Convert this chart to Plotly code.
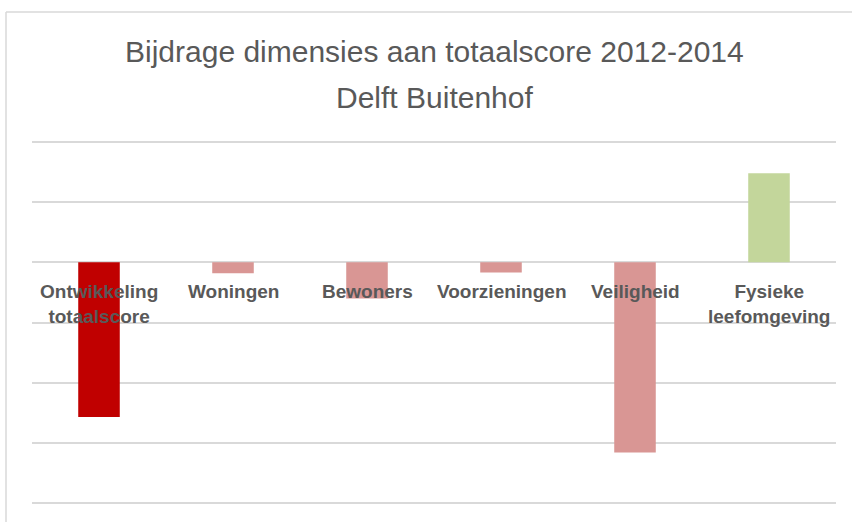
import plotly.graph_objects as go

categories = ["Ontwikkeling<br>totaalscore", "Woningen", "Bewoners", "Voorzieningen", "Veiligheid", "Fysieke<br>leefomgeving"]
values = [-2.57, -0.18, -0.60, -0.17, -3.16, 1.48]
colors = ["#C00000", "#D99694", "#D99694", "#D99694", "#D99694", "#C3D69B"]
title_line1 = "Bijdrage dimensies aan totaalscore 2012-2014"
title_line2 = "Delft Buitenhof"

x_idx = list(range(len(categories)))

fig = go.Figure()
fig.add_trace(go.Bar(x=x_idx, y=values, marker=dict(color=colors, line=dict(width=0)), width=0.31,
                     hoverinfo="skip"))

annotations = []
for i, c in enumerate(categories):
    annotations.append(dict(x=i, y=0, xref="x", yref="y", text=c, showarrow=False,
                            yanchor="top", yshift=-17,
                            font=dict(family="Liberation Sans", size=19, color="#595959", weight="bold")))
annotations.append(dict(x=0.5, y=1, xref="paper", yref="paper", text=title_line1, showarrow=False,
                        yanchor="bottom", yshift=69, xanchor="center",
                        font=dict(family="Liberation Sans", size=30, color="#595959")))
annotations.append(dict(x=0.5, y=1, xref="paper", yref="paper", text=title_line2, showarrow=False,
                        yanchor="bottom", yshift=23, xanchor="center",
                        font=dict(family="Liberation Sans", size=30, color="#595959")))

fig.update_layout(
    width=852, height=522,
    margin=dict(l=32, r=16, t=139, b=16),
    paper_bgcolor="white", plot_bgcolor="white",
    showlegend=False,
    annotations=annotations,
    xaxis=dict(range=[-0.5, len(categories) - 0.5], showticklabels=False, showgrid=False,
               zeroline=False, showline=False, ticks=""),
    yaxis=dict(range=[-4.05, 2.05], dtick=1, tick0=0, showticklabels=False, showgrid=True,
               gridcolor="#D9D9D9", gridwidth=1.5, zeroline=True, zerolinecolor="#D9D9D9",
               zerolinewidth=1.5, showline=False, ticks=""),
    shapes=[
        dict(type="line", xref="paper", yref="paper", x0=-26/804, x1=1.03, y0=1+127/367, y1=1+127/367,
             line=dict(color="#D9D9D9", width=1.5)),
        dict(type="line", xref="paper", yref="paper", x0=-26/804, x1=-26/804, y0=1+127/367, y1=-0.1,
             line=dict(color="#D9D9D9", width=1.5)),
    ],
)

fig.write_html("out.html")
